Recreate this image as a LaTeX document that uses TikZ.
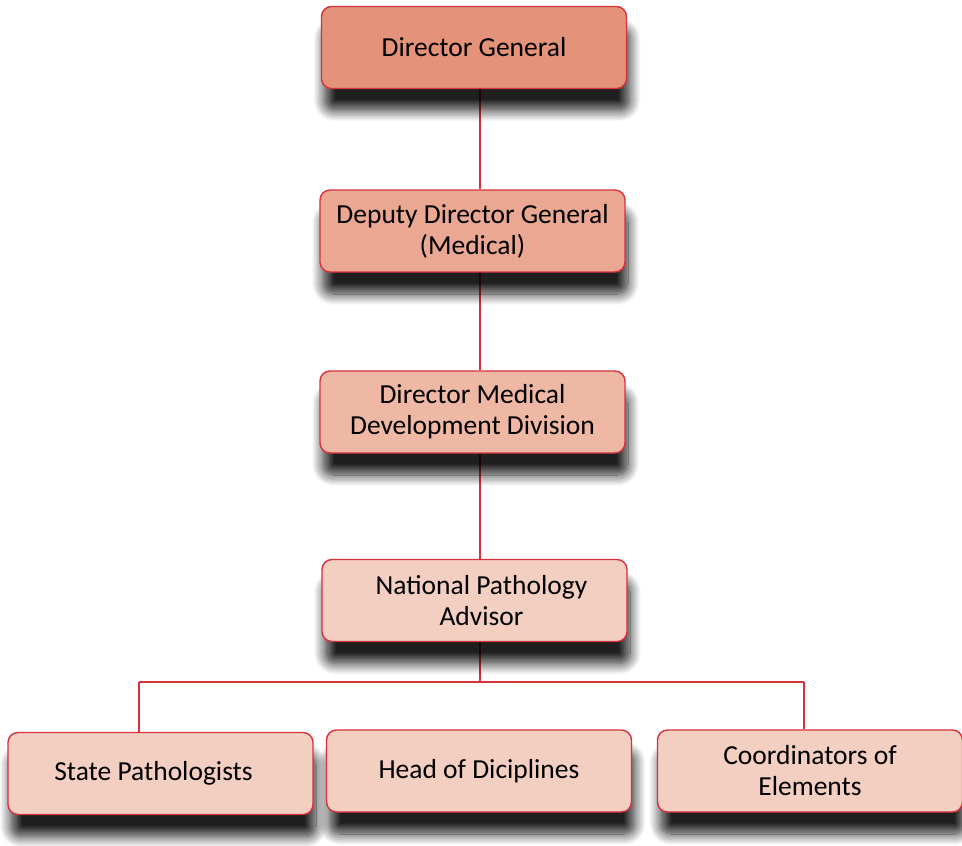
\documentclass[tikz,border=0pt]{standalone}
\usepackage{fontspec}
\setmainfont{Carlito}
\usepackage{tikz}
\usetikzlibrary{shapes,shadows.blur,backgrounds}

\definecolor{boxred}{HTML}{D9303E}
\definecolor{fillA}{HTML}{E4937A}
\definecolor{fillB}{HTML}{EAA791}
\definecolor{fillC}{HTML}{EFB8A5}
\definecolor{fillD}{HTML}{F2CFC1}

\begin{document}
\begin{tikzpicture}[x=1pt,y=-1pt,
      every node/.style={rectangle,rounded corners=10pt,draw=boxred,line width=1.4pt,
        minimum width=305pt,minimum height=82pt,align=center,
        font=\fontsize{27.5}{31}\selectfont,
        blur shadow={shadow xshift=3pt,shadow yshift=-22pt,shadow blur radius=11pt,
          shadow blur steps=12,shadow opacity=88}},
      link/.style={draw=boxred,line width=2.8pt}]
    \useasboundingbox (0,0) rectangle (962,846);
    \coordinate (spine) at (480,0);
    \coordinate (bus) at (0,682);
    \coordinate (busL) at (139,682);
    \coordinate (busR) at (804,682);
    % boxes
    \node[fill=fillA] (dg) at (474,47.5) {Director General};
    \node[fill=fillB] (ddg) at (472.5,231) {Deputy Director General\\(Medical)};
    \node[fill=fillC] (dmd) at (472.5,412) {Director Medical\\Development Division};
    \node[fill=fillD] (npa) at (474.5,600.5) {\hspace*{14pt}National Pathology\\\hspace*{14pt}Advisor};
    \node[fill=fillD] (sp) at (160.5,773.5) {\raisebox{6pt}{State Pathologists\hspace*{14pt}}};
    \node[fill=fillD] (hod) at (479,771) {\raisebox{4pt}{Head of Diciplines}};
    \node[fill=fillD] (coe) at (810,771) {Coordinators of\\Elements};
    % connectors on the back layer
    \begin{pgfonlayer}{background}
    \path[link] (dg.south -| spine) -- (ddg.north -| spine)
      (ddg.south -| spine) -- (dmd.north -| spine)
      (dmd.south -| spine) -- (npa.north -| spine)
      (npa.south -| spine) -- (bus -| spine);
    \path[link] (busL) -- (busR)
      (busL) -- (sp.north -| busL)
      (busR) -- (coe.north -| busR);
    \end{pgfonlayer}
  \end{tikzpicture}
\end{document}
